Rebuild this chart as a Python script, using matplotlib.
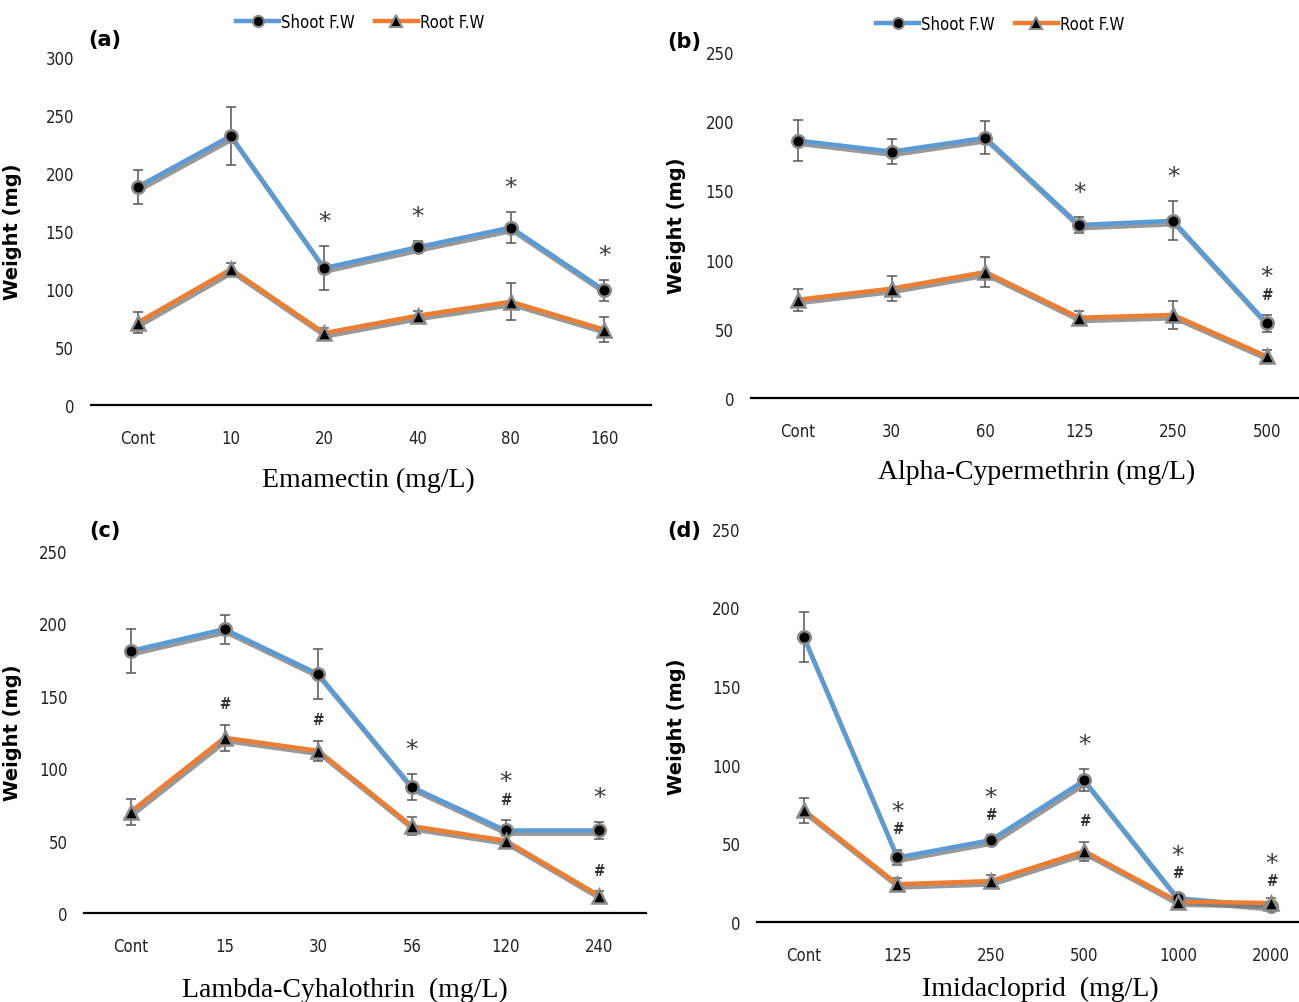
import numpy as np
import matplotlib
matplotlib.use('Agg')
import matplotlib.pyplot as plt
import matplotlib.patheffects as pe
from matplotlib.lines import Line2D

# data
a_labels = ['Cont', '10', '20', '40', '80', '160']
a_shoot = [188, 232, 118, 136, 153, 99]
a_shoot_err = [15, 25, 19, 5, 13, 9]
a_root = [71, 117, 62, 77, 89, 65]
a_root_err = [9, 5, 4, 4, 16, 11]
a_marks = [(2, 'shoot', '*'), (3, 'shoot', '*'), (4, 'shoot', '*'), (5, 'shoot', '*')]

b_labels = ['Cont', '30', '60', '125', '250', '500']
b_shoot = [186, 178, 188, 125, 128, 54]
b_shoot_err = [15, 9, 12, 6, 14, 6]
b_root = [71, 79, 91, 58, 60, 30]
b_root_err = [8, 9, 11, 5, 10, 5]
b_marks = [(3, 'shoot', '*'), (4, 'shoot', '*'), (5, 'shoot', '#*')]

c_labels = ['Cont', '15', '30', '56', '120', '240']
c_shoot = [181, 196, 165, 87, 57, 57]
c_shoot_err = [15, 10, 17, 9, 7, 6]
c_root = [70, 121, 112, 60, 50, 12]
c_root_err = [9, 9, 7, 6, 3, 3]
c_marks = [(1, 'root', '#'), (2, 'root', '#'), (3, 'shoot', '*'),
           (4, 'shoot', '#*'), (5, 'shoot', '*'), (5, 'root', '#')]

d_labels = ['Cont', '125', '250', '500', '1000', '2000']
d_shoot = [181, 41, 52, 90, 15, 10]
d_shoot_err = [16, 5, 3, 7, 3, 3]
d_root = [71, 24, 26, 45, 13, 12]
d_root_err = [8, 4, 4, 6, 3, 3]
d_marks = [(1, 'shoot', '#*'), (2, 'shoot', '#*'), (3, 'shoot', '*'), (3, 'root', '#'),
           (4, 'shoot', '#*'), (5, 'shoot', '#*')]

BLUE = '#5b9bd5'
ORANGE = '#ed7d31'
SERIF = ['Liberation Serif', 'DejaVu Serif']

fig = plt.figure(figsize=(12.99, 10.03), dpi=100)

panels = [
    # rect, labels, shoot, shoot_err, root, root_err, marks, ymax, xlabel, xlabel pos, ylabel x, tag, tag pos
    ([0.070, 0.5952, 0.431, 0.347], a_labels, a_shoot, a_shoot_err, a_root, a_root_err, a_marks,
     300, 'Emamectin (mg/L)', (0.495, -0.213), -0.123, '(a)', (0.081, 0.960)),
    ([0.578, 0.6022, 0.4334, 0.345], b_labels, b_shoot, b_shoot_err, b_root, b_root_err, b_marks,
     250, 'Alpha-Cypermethrin (mg/L)', (0.508, -0.211), -0.115, '(b)', (0.527, 0.958)),
    ([0.0647, 0.0887, 0.4326, 0.361], c_labels, c_shoot, c_shoot_err, c_root, c_root_err, c_marks,
     250, 'Lambda-Cyhalothrin  (mg/L)', (0.464, -0.21), -0.110, '(c)', (0.081, 0.471)),
    ([0.5828, 0.0798, 0.4319, 0.392], d_labels, d_shoot, d_shoot_err, d_root, d_root_err, d_marks,
     250, 'Imidacloprid  (mg/L)', (0.504, -0.17), -0.127, '(d)', (0.527, 0.471)),
]

shadow = [pe.SimpleLineShadow(offset=(1.2, -2.4), shadow_color='#777777', alpha=0.75), pe.Normal()]

for (rect, labels, shoot, shoot_err, root, root_err, marks,
     ymax, xlabel, xlpos, ylx, tag, tagpos) in panels:
    ax = fig.add_axes(rect)
    x = np.arange(len(labels)) + 0.5
    for vals, errs, col, mk in [(shoot, shoot_err, BLUE, 'o'), (root, root_err, ORANGE, '^')]:
        ax.errorbar(x, vals, yerr=errs, fmt='none', ecolor='#555555', elinewidth=1.1,
                    capsize=3.5, capthick=1.1, zorder=2)
        ax.plot(x, vals, color=col, lw=3.2, zorder=3, path_effects=shadow)
        ax.plot(x, vals, ls='none', marker=mk, ms=9 if mk == 'o' else 10,
                mfc='black', mec='#8a8a8a', mew=1.8, zorder=4)
    # significance marks (# below *, stacked)
    for i, which, txt in marks:
        top = shoot[i] + shoot_err[i] if which == 'shoot' else root[i] + root_err[i]
        off = 0
        for ch in txt:
            if ch == '#':
                off += 15
                ax.annotate('#', (x[i], top), xytext=(0, off), textcoords='offset points',
                            ha='center', va='center', fontsize=11, color='#333333',
                            fontweight='bold', fontstretch='condensed')
            else:
                off += 20 if off == 0 else 15
                ax.annotate('*', (x[i], top), xytext=(0, off - 2), textcoords='offset points',
                            ha='center', va='center', fontsize=18, color='#3a3a3a')
    ax.set_xlim(0, len(labels))
    ax.set_ylim(0, ymax)
    ax.set_yticks(np.arange(0, ymax + 1, 50))
    ax.set_xticks(x)
    ax.set_xticklabels(labels)
    for s in ['top', 'right', 'left']:
        ax.spines[s].set_visible(False)
    ax.spines['bottom'].set_linewidth(1.6)
    ax.spines['bottom'].set_color('black')
    ax.tick_params(axis='both', length=0, labelsize=12, labelcolor='#222222')
    ax.tick_params(axis='y', pad=12)
    ax.tick_params(axis='x', pad=17)
    for t in ax.get_xticklabels() + ax.get_yticklabels():
        t.set_fontstretch('condensed')
    ax.set_ylabel('Weight (mg)', fontsize=14, fontweight='heavy')
    ax.yaxis.set_label_coords(ylx, 0.5)
    ax.set_xlabel(xlabel, fontsize=20, family=SERIF)
    ax.xaxis.set_label_coords(*xlpos)
    ax.xaxis.label.set_va('center')
    fig.text(tagpos[0], tagpos[1], tag, fontsize=15, fontweight='bold', ha='center', va='center')

handles = [
    Line2D([], [], color=BLUE, lw=3.2, marker='o', ms=8, mfc='black', mec='#8a8a8a', mew=1.5),
    Line2D([], [], color=ORANGE, lw=3.2, marker='^', ms=9, mfc='black', mec='#8a8a8a', mew=1.5),
]
for cx, cy in [(360 / 1299, 1 - 23 / 1003), (1000 / 1299, 1 - 25 / 1003)]:
    fig.legend(handles, ['Shoot F.W', 'Root F.W'], loc='center', bbox_to_anchor=(cx, cy),
               ncol=2, frameon=False, handlelength=2.6, handletextpad=0.1, columnspacing=1.2,
               prop={'stretch': 'condensed', 'size': 12})

fig.savefig('out.png', dpi=100)
